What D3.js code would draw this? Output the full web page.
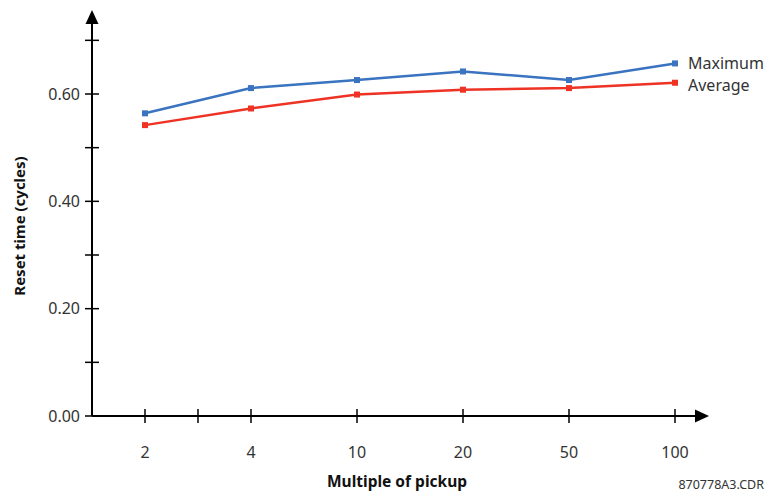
<!DOCTYPE html>
<html><head><meta charset="utf-8">
<script src="https://cdn.jsdelivr.net/npm/d3@7"></script>
<style>body{margin:0;background:#fff}svg{display:block}text{font-family:"Noto Sans","Open Sans",sans-serif}</style>
</head><body><svg id="c" width="772" height="493"></svg>
<script>
const categories = ["2","4","10","20","50","100"];
const maximum = [0.564, 0.611, 0.626, 0.642, 0.626, 0.657];
const average = [0.542, 0.573, 0.599, 0.608, 0.611, 0.621];
const yTicks = [0, 0.2, 0.4, 0.6];
const yMinor = [0.1, 0.3, 0.5, 0.7];
const xPos = [1, 3, 5, 7, 9, 11];
const xMinor = [2];

const svg = d3.select("#c");
const x = d3.scaleLinear().domain([0, 11]).range([92, 675]);
const y = d3.scaleLinear().domain([0, 0.6]).range([416, 94]);
const ink = "#000";

svg.append("line").attr("x1",92).attr("x2",92).attr("y1",416).attr("y2",22).attr("stroke",ink).attr("stroke-width",2);
svg.append("path").attr("d","M92,10 L85.5,24 L98.5,24 Z").attr("fill",ink);
svg.append("line").attr("x1",92).attr("x2",698).attr("y1",416).attr("y2",416).attr("stroke",ink).attr("stroke-width",2);
svg.append("path").attr("d","M709,416 L695,409.5 L695,422.5 Z").attr("fill",ink);

yTicks.concat(yMinor).forEach(v=>{
  svg.append("line").attr("x1",85).attr("x2",99).attr("y1",y(v)).attr("y2",y(v)).attr("stroke",ink).attr("stroke-width",1.5);
});
yTicks.forEach(v=>{
  svg.append("text").attr("x",80).attr("y",y(v)).attr("dy","0.36em").attr("text-anchor","end")
    .attr("font-size",16).attr("fill","#333").text(v.toFixed(2));
});
xPos.concat(xMinor).forEach(p=>{
  svg.append("line").attr("x1",x(p)).attr("x2",x(p)).attr("y1",409).attr("y2",423).attr("stroke",ink).attr("stroke-width",1.5);
});
categories.forEach((c,i)=>{
  svg.append("text").attr("x",x(xPos[i])).attr("y",452).attr("dy","0.36em").attr("text-anchor","middle")
    .attr("font-size",16).attr("fill","#333").text(c);
});

svg.append("text").attr("x",397).attr("y",481).attr("dy","0.36em").attr("text-anchor","middle")
  .attr("font-size",15.5).attr("font-weight","bold").attr("fill","#111").text("Multiple of pickup");
svg.append("text").attr("transform","translate(20,226) rotate(-90)").attr("dy","0.36em").attr("text-anchor","middle")
  .attr("font-size",15).attr("font-weight","bold").attr("fill","#111").text("Reset time (cycles)");
svg.append("text").attr("x",764).attr("y",484).attr("dy","0.36em").attr("text-anchor","end")
  .attr("font-size",12.5).attr("fill","#333").text("870778A3.CDR");

const series = [
  {name:"Maximum", vals:maximum, color:"#3a73c0", off:0},
  {name:"Average", vals:average, color:"#ee3224", off:2.5}
];
const line = d3.line().x((d,i)=>x(xPos[i])).y(d=>y(d));
series.forEach(s=>{
  svg.append("path").attr("d",line(s.vals)).attr("fill","none").attr("stroke",s.color).attr("stroke-width",2.5);
  s.vals.forEach((v,i)=>{
    svg.append("rect").attr("x",x(xPos[i])-3).attr("y",y(v)-3).attr("width",6).attr("height",6).attr("fill",s.color);
  });
  svg.append("text").attr("x",688).attr("y",y(s.vals[s.vals.length-1])+s.off).attr("dy","0.36em")
    .attr("font-size",16).attr("fill","#333").text(s.name);
});
</script></body></html>
